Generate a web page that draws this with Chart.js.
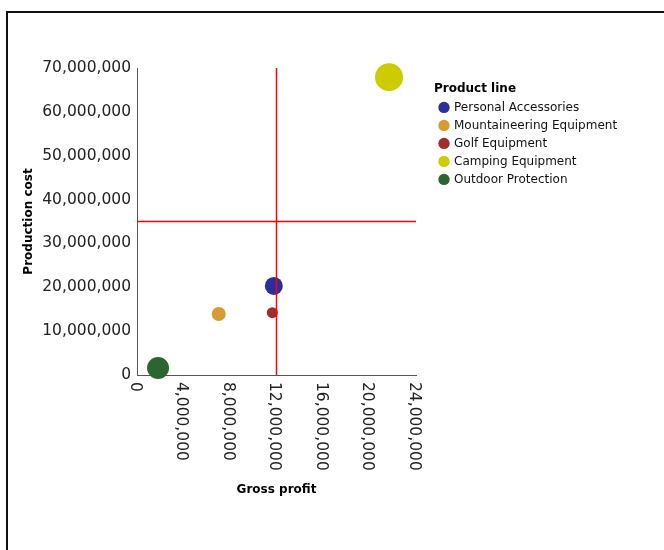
<!DOCTYPE html>
<html>
<head>
<meta charset="utf-8">
<script src="https://cdn.jsdelivr.net/npm/chart.js@4"></script>
<style>
    html, body { margin: 0; padding: 0; background: #fff; overflow: hidden; }
    #wrap { position: relative; width: 664px; height: 550px; }
    #frame { position: absolute; left: 6px; top: 11px; width: 720px; height: 620px; border: 2px solid #111; box-sizing: border-box; }
    canvas { position: absolute; left: 0; top: 0; }
</style>
</head>
<body>
<div id="wrap">
    <div id="frame"></div>
    <canvas id="bubbleChart" width="664" height="550"></canvas>
</div>
<script>
const productLines = ['Personal Accessories', 'Mountaineering Equipment', 'Golf Equipment', 'Camping Equipment', 'Outdoor Protection'];
const grossProfit = [11770000, 7030000, 11640000, 21680000, 1810000];
const productionCost = [20300000, 13900000, 14200000, 67900000, 1600000];
const bubbleRadius = [9, 7, 5.5, 14, 11];
const lineColors = ['#2b2f9c', '#d89b30', '#a32c2c', '#cccc00', '#2d6530'];

const xTicks = [0, 4000000, 8000000, 12000000, 16000000, 20000000, 24000000];
const yTicks = [0, 10000000, 20000000, 30000000, 40000000, 50000000, 60000000, 70000000];

// red reference lines
const refProfit = 12000000;
const refCost = 35000000;

Chart.defaults.font.family = '"DejaVu Sans", Verdana, sans-serif';
Chart.defaults.color = '#222';

const fmt = v => v.toLocaleString('en-US');

const datasets = productLines.map((name, i) => ({
    type: 'bubble',
    label: name,
    data: [{ x: grossProfit[i], y: productionCost[i], r: bubbleRadius[i] }],
    backgroundColor: lineColors[i],
    borderWidth: 0,
    clip: false,
    order: 1
}));

datasets.push({
    type: 'line',
    label: 'refX',
    data: [{ x: refProfit, y: 0 }, { x: refProfit, y: 70000000 }],
    borderColor: '#ff0000',
    borderWidth: 1.5,
    pointRadius: 0,
    order: 0
});
datasets.push({
    type: 'line',
    label: 'refY',
    data: [{ x: 0, y: refCost }, { x: 24000000, y: refCost }],
    borderColor: '#ff0000',
    borderWidth: 1.5,
    pointRadius: 0,
    order: 0
});

// x labels read top-to-bottom, chart.js only rotates the other way
const xTickLabels = {
    id: 'xTickLabels',
    afterDraw(chart) {
        const scale = chart.scales.x;
        const ctx = chart.ctx;
        ctx.save();
        ctx.font = '15.5px "DejaVu Sans"';
        ctx.fillStyle = '#222';
        ctx.textAlign = 'left';
        ctx.textBaseline = 'middle';
        xTicks.forEach(v => {
            ctx.save();
            ctx.translate(scale.getPixelForValue(v) - 2, scale.top + 7);
            ctx.rotate(Math.PI / 2);
            ctx.fillText(fmt(v), 0, 0);
            ctx.restore();
        });
        ctx.restore();
    }
};

const shiftLegend = {
    id: 'shiftLegend',
    afterLayout(chart) {
        chart.legend.left += 18;
        chart.legend.right += 18;
    }
};

const ctx = document.getElementById('bubbleChart').getContext('2d');
new Chart(ctx, {
    type: 'bubble',
    data: { datasets: datasets },
    plugins: [xTickLabels, shiftLegend],
    options: {
        responsive: false,
        animation: false,
        layout: { padding: { left: 0, top: 68, right: 55, bottom: 0 } },
        plugins: {
            tooltip: { enabled: false },
            legend: {
                position: 'right',
                align: 'start',
                maxWidth: 193,
                title: {
                    display: true,
                    text: 'Product line',
                    position: 'start',
                    color: '#000',
                    font: { size: 12, weight: 'bold' },
                    padding: { top: 15, bottom: -2 }
                },
                labels: {
                    usePointStyle: true,
                    pointStyle: 'circle',
                    boxWidth: 8,
                    boxHeight: 8,
                    padding: 6,
                    color: '#111',
                    font: { size: 12 },
                    filter: item => item.text !== 'refX' && item.text !== 'refY'
                }
            }
        },
        scales: {
            x: {
                type: 'linear',
                min: 0,
                max: 24000000,
                grid: { display: false },
                border: { display: true, color: '#555' },
                ticks: { display: false },
                afterBuildTicks: scale => { scale.ticks = xTicks.map(v => ({ value: v })); },
                afterFit: scale => { scale.height = 175; },
                title: {
                    display: true,
                    text: 'Gross profit',
                    color: '#000',
                    font: { size: 12, weight: 'bold' },
                    padding: { top: 4, bottom: 53 }
                }
            },
            y: {
                type: 'linear',
                min: 0,
                max: 70000000,
                grid: { display: false, drawTicks: false },
                border: { display: true, color: '#555' },
                ticks: { padding: 6, font: { size: 15.5 }, color: '#222', callback: v => fmt(v) },
                afterBuildTicks: scale => { scale.ticks = yTicks.map(v => ({ value: v })); },
                afterFit: scale => { scale.width = 137; },
                title: {
                    display: true,
                    text: 'Production cost',
                    color: '#000',
                    font: { size: 12, weight: 'bold' },
                    padding: { top: 22, bottom: 0 }
                }
            }
        }
    }
});
</script>
</body>
</html>
